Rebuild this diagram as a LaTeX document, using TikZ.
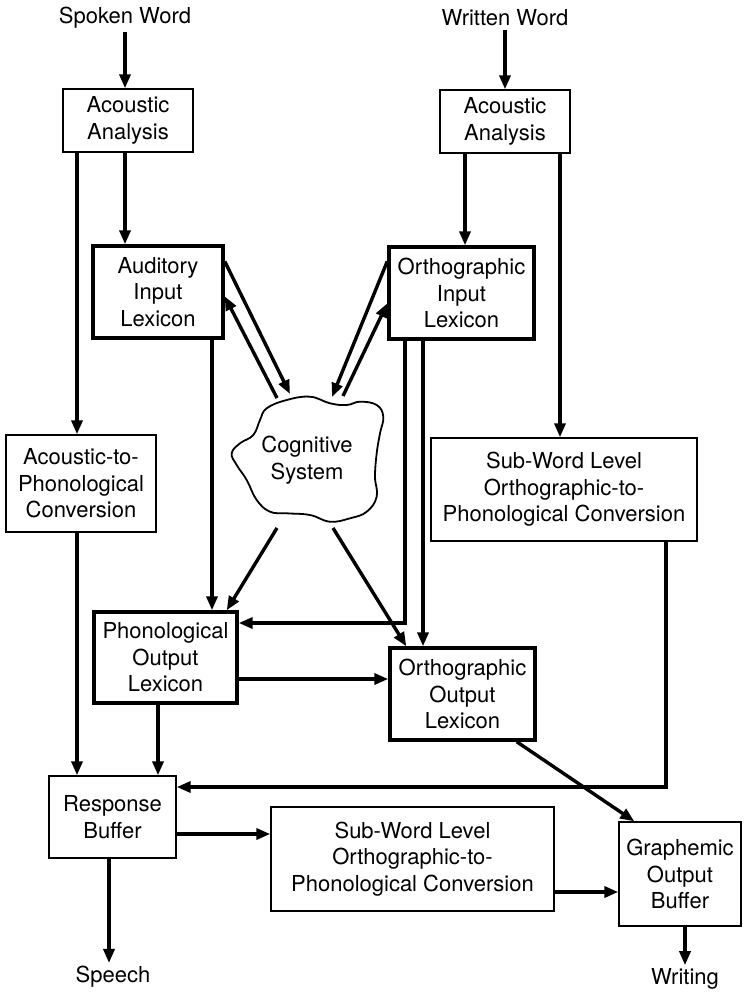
\documentclass[tikz,border=0pt]{standalone}
\usepackage{fontspec}
\setmainfont{TeX Gyre Heros}
\usetikzlibrary{arrows.meta,calc}
\begin{document}
\begin{tikzpicture}[x=0.5pt,y=-0.5pt,
  every node/.style={font=\fontsize{11}{13.3}\selectfont, align=center},
  box/.style={draw, line width=0.7pt, inner sep=0pt},
  lexbox/.style={draw, line width=1.7pt, inner sep=0pt},
  lbl/.style={inner sep=1.5pt},
  arr/.style={line width=1.7pt, -{Triangle[length=7pt,width=5.5pt]}},
  cloudline/.style={line width=0.9pt, line join=round}]
\useasboundingbox (0,0) rectangle (744,992);

% terminals
\node[lbl] (spoken)  at (125,18)  {Spoken Word};
\node[lbl] (written) at (505,18)  {Written Word};
\node[lbl] (speech)  at (113,977) {Speech};
\node[lbl] (writing) at (685,979) {Writing};

% processing boxes
\node[box, minimum width=65pt, minimum height=31.5pt] (aa1) at (128,120.5) {Acoustic\\Analysis};
\node[box, minimum width=65pt, minimum height=31.5pt] (aa2) at (505,121.5) {Acoustic\\Analysis};
\node[lexbox, minimum width=65pt, minimum height=46pt] (ail) at (158,292) {Auditory\\Input\\Lexicon};
\node[lexbox, minimum width=72.5pt, minimum height=46pt] (oil) at (461.5,293) {Orthographic\\Input\\Lexicon};
\node[box, minimum width=75pt, minimum height=48.5pt] (atp) at (81,483.5) {Acoustic-to-\\Phonological\\Conversion};
\node[box, minimum width=133pt, minimum height=51.5pt] (sw1) at (564,489.5) {Sub-Word Level\\Orthographic-to-\\Phonological Conversion};
\node[lexbox, minimum width=71.5pt, minimum height=45.5pt] (pol) at (165.5,657.5) {Phonological\\Output\\Lexicon};
\node[lexbox, minimum width=72.5pt, minimum height=46pt] (ool) at (462.5,694) {Orthographic\\Output\\Lexicon};
\node[box, minimum width=63.5pt, minimum height=41pt] (rb) at (112.5,817) {Response\\Buffer};
\node[box, minimum width=141.5pt, minimum height=52pt] (sw2) at (412.5,859) {Sub-Word Level\\Orthographic-to-\\Phonological Conversion};
\node[box, minimum width=61pt, minimum height=52pt] (gob) at (680,874) {Graphemic\\Output\\Buffer};

% cognitive system cloud
\draw[cloudline] plot[smooth cycle, tension=0.7] coordinates {
  (266.7,408.3) (286.7,400) (310,396.7) (330,403.3) (346.7,405) (360,401.7)
  (376.7,405) (383.3,416.7) (380,433.3) (376.7,453.3) (375,476.7) (376.7,496.7)
  (366.7,511.7) (350,518.3) (330,521.7) (310,515) (286.7,513.3) (270,511.7)
  (256.7,500) (246.7,480) (236.7,465) (231.7,453.3) (240,443.3) (253.3,435) (260,420)};
\node (cog) at (307,460) {Cognitive\\System};

% cloud attachment points
\coordinate (cogA) at (290,394);
\coordinate (cogB) at (277,398);
\coordinate (cogC) at (332,397);
\coordinate (cogD) at (343,396);
\coordinate (cogE) at (277,528);
\coordinate (cogF) at (333,528);

% columns and rows of the orthogonal connectors
\coordinate (c77)  at (77,0);
\coordinate (c125) at (125,0);
\coordinate (c465) at (465,0);
\coordinate (c560) at (560,0);
\coordinate (c212) at (212,0);
\coordinate (c405) at (405,0);
\coordinate (c423) at (423,0);
\coordinate (c158) at (158,0);
\coordinate (c666) at (666,0);
\coordinate (c109) at (109,0);
\coordinate (c685) at (685,0);
\coordinate (r623) at (0,623);
\coordinate (r679) at (0,679);
\coordinate (r787) at (0,787);
\coordinate (r834) at (0,834);
\coordinate (r892) at (0,892);

% inputs
\draw[arr] (spoken.south) -- (spoken.south |- aa1.north);
\draw[arr] (written.south) -- (written.south |- aa2.north);

% spoken route
\draw[arr] (aa1.south -| c125) -- (ail.north -| c125);
\draw[arr] (aa1.south -| c77) -- (atp.north -| c77);
\draw[arr] ($(ail.north east)+(0,17)$) -- (cogA);
\draw[arr] (cogB) -- ($(ail.north east)+(0,52)$);
\draw[arr] (ail.south -| c212) -- (pol.north -| c212);

% written route
\draw[arr] (aa2.south -| c465) -- (oil.north -| c465);
\draw[arr] (aa2.south -| c560) -- (sw1.north -| c560);
\draw[arr] ($(oil.north west)+(0,16)$) -- (cogC);
\draw[arr] (cogD) -- ($(oil.north west)+(0,58)$);
\draw[arr] (oil.south -| c405) -- (c405 |- r623) -- (pol.east |- r623);
\draw[arr] (oil.south -| c423) -- (ool.north -| c423);

% from the cognitive system
\draw[arr] (cogE) -- ($(pol.north east)+(-12,0)$);
\draw[arr] (cogF) -- ($(ool.north west)+(18,0)$);

% output side
\draw[arr] (pol.east |- r679) -- (ool.west |- r679);
\draw[arr] (pol.south -| c158) -- (rb.north -| c158);
\draw[arr] (atp.south -| c77) -- (rb.north -| c77);
\draw[arr] (sw1.south -| c666) -- (c666 |- r787) -- (rb.east |- r787);
\draw[arr] ($(ool.south east)+(-20,0)$) -- ($(gob.north west)+(16,0)$);
\draw[arr] (rb.east |- r834) -- (sw2.west |- r834);
\draw[arr] (sw2.east |- r892) -- (gob.west |- r892);
\draw[arr] (rb.south -| c109) -- (c109 |- speech.north);
\draw[arr] (gob.south -| c685) -- (c685 |- writing.north);
\end{tikzpicture}
\end{document}
